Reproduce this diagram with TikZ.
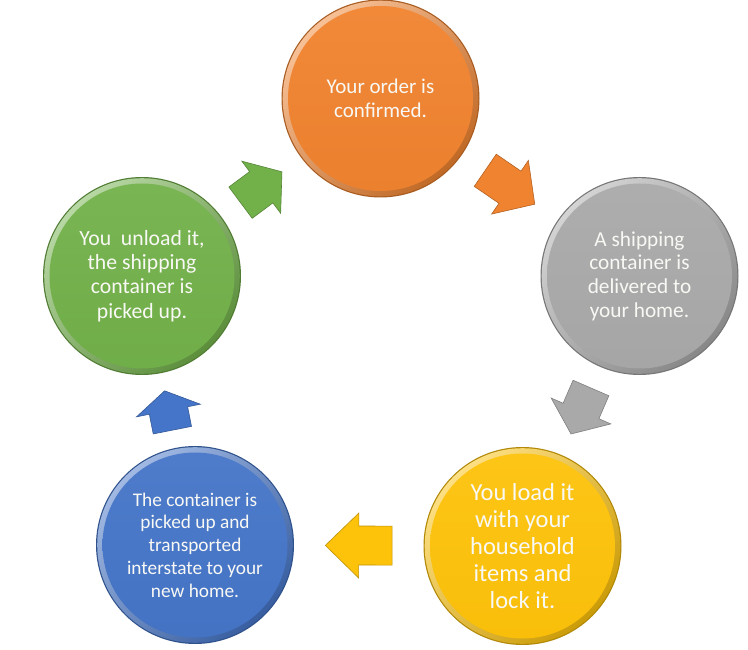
\documentclass[tikz,border=0pt]{standalone}
\usepackage{fontspec}
\setmainfont{Carlito}
\usetikzlibrary{calc}
\definecolor{corange}{HTML}{F0832F}
\definecolor{cgray}{HTML}{A9A9A9}
\definecolor{cyellow}{HTML}{FDC20A}
\definecolor{cblue}{HTML}{4575C8}
\definecolor{cgreen}{HTML}{72B14A}
\definecolor{txt}{HTML}{F8F8F4}
\tikzset{
  stage/.style={circle, minimum size=198pt, inner sep=0pt, align=center, text=txt,
    fill=#1!70!black,
    path picture={
      \shade[top color=#1!50!white, bottom color=#1!80!black, shading angle=45]
        (path picture bounding box.center) circle (97.8);
      \shade[top color=#1!95!white, bottom color=#1!98!black]
        (path picture bounding box.center) circle (92.5);
    }},
  cyclearrowstyle/.style={fill=#1, draw=#1!75!black, line width=0.6pt, line join=miter},
}
\newcommand\cyclearrow[3]{%
  \path[cyclearrowstyle=#3]
    let \p1=($(#1.center)!0.5!(#2.center)$), \p2=($(#2.center)-(#1.center)$),
        \n1={atan2(\y2,\x2)}, \n2={(veclen(\x2,\y2)-194)/4}
    in ($(\p1)+(\n1:\n2)$)
    -- ($(\p1)+({\n1+90}:32.5)$)
    -- ($(\p1)+({\n1+90}:19.5)$)
    -- ($(\p1)+({\n1+180}:\n2)+({\n1+90}:19.5)$)
    -- ($(\p1)+({\n1+180}:\n2)+({\n1-90}:19.5)$)
    -- ($(\p1)+({\n1-90}:19.5)$)
    -- ($(\p1)+({\n1-90}:32.5)$)
    -- cycle;}
\begin{document}
\begin{tikzpicture}[x=1pt,y=1pt]
  \fill[white] (0,0) rectangle (748,649);
  \useasboundingbox (0,0) rectangle (748,649);
  \node[stage=corange, font=\fontsize{21}{24.5}\selectfont] (order) at (380.5,550.5)
    {Your order is\\confirmed.};
  \node[stage=cgray, font=\fontsize{21.3}{23.6}\selectfont] (deliver) at (639.5,373)
    {A shipping\\container is\\delivered to\\your home.};
  \node[stage=cyellow, font=\fontsize{24.5}{27}\selectfont] (load) at (522.5,103)
    {You load it\\with your\\household\\items and\\lock it.};
  \node[stage=cblue, font=\fontsize{19.3}{22.8}\selectfont] (move) at (195,104)
    {The container is\\picked up and\\transported\\interstate to your\\new home.};
  \node[stage=cgreen, font=\fontsize{21.7}{24.4}\selectfont] (unload) at (142,373)
    {You\ \ unload it,\\the shipping\\container is\\picked up.};
  \cyclearrow{order}{deliver}{corange}
  \cyclearrow{deliver}{load}{cgray}
  \cyclearrow{load}{move}{cyellow}
  \cyclearrow{move}{unload}{cblue}
  \cyclearrow{unload}{order}{cgreen}
\end{tikzpicture}
\end{document}
